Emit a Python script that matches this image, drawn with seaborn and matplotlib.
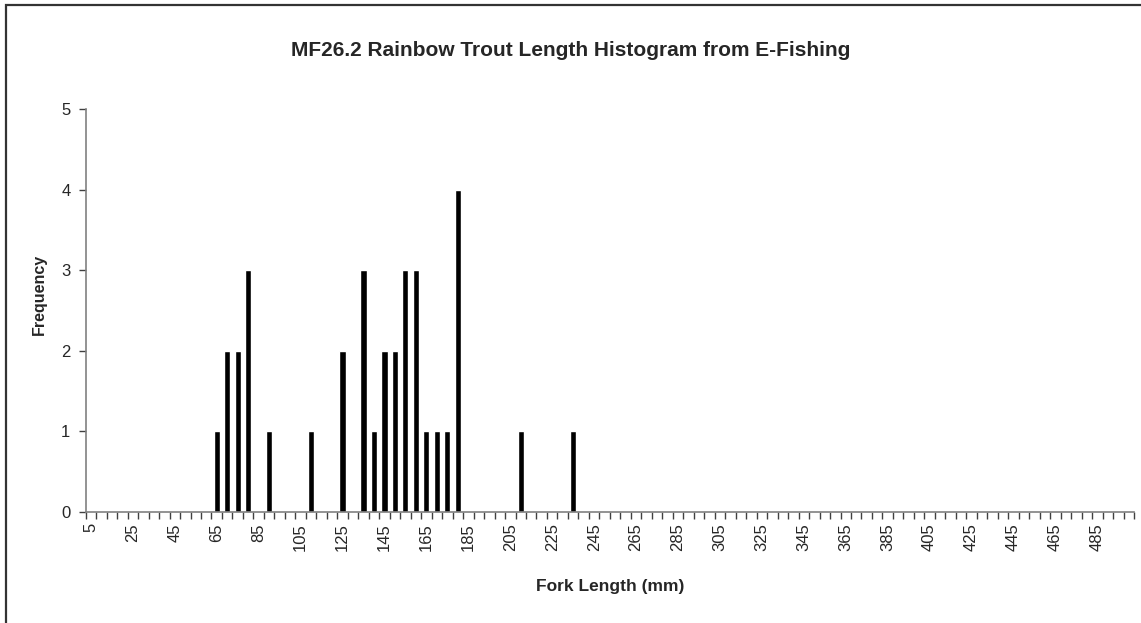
import numpy as np
import pandas as pd
import matplotlib
matplotlib.use('Agg')
import matplotlib.pyplot as plt
import seaborn as sns
from matplotlib.patches import Rectangle

# Fork length bins (mm) and the counts
bins = list(range(5, 505, 5))
lengths = [65, 70, 75, 80, 90, 110, 125, 135, 140, 145, 150, 155, 160, 165, 170, 175, 180, 210, 235]
counts = [1, 2, 2, 3, 1, 1, 2, 3, 1, 2, 2, 3, 3, 1, 1, 1, 4, 1, 1]

freq = pd.Series(counts, index=lengths).reindex(bins, fill_value=0)
data = pd.DataFrame({'length': [str(b) for b in bins], 'freq': freq.values})

sns.set_style('white')
plt.rcParams['font.family'] = ['Liberation Sans', 'DejaVu Sans']

fig = plt.figure(figsize=(11.41, 6.23), dpi=100)
ax = fig.add_axes([0.0751, 0.178, 0.9188, 0.647])

sns.barplot(data=data, x='length', y='freq', order=data['length'], color='black',
            width=0.58, saturation=1, ax=ax)

n = len(bins)
ax.set_xlim(-0.5, n - 0.5)
ax.set_ylim(0, 5)
ax.set_yticks(range(0, 6))
ax.set_yticklabels([str(i) for i in range(0, 6)], fontsize=12)

label_pos = list(range(0, n, 4))
ax.set_xticks(label_pos)
ax.set_xticklabels([str(bins[i]) for i in label_pos], rotation=90, fontsize=12)
ax.set_xticks(np.arange(-0.5, n, 1), minor=True)
ax.tick_params(axis='x', which='major', length=0, pad=8)
ax.tick_params(axis='x', which='minor', length=5, width=1, color='#404040', direction='out', bottom=True)
ax.tick_params(axis='y', length=5, width=1, color='#404040', direction='out', left=True, pad=6)

for s in ['top', 'right']:
    ax.spines[s].set_visible(False)
for s in ['left', 'bottom']:
    ax.spines[s].set_color('#808080')
    ax.spines[s].set_linewidth(1.2)

ax.set_xlabel('Fork Length (mm)', fontsize=12.5, fontweight='bold', labelpad=20)
ax.set_ylabel('Frequency', fontsize=11.5, fontweight='bold')
ax.yaxis.set_label_coords(-0.037, 0.54)
fig.text(0.5, 1 - 51 / 623, 'MF26.2 Rainbow Trout Length Histogram from E-Fishing', fontsize=15,
         fontweight='bold', ha='center', va='center')

fig.patches.append(Rectangle((6 / 1141, -0.05), 1.2, 1.05 - 5 / 623, transform=fig.transFigure,
                             fill=False, edgecolor='#333333', linewidth=1.6))

fig.savefig('out.png', dpi=100)
